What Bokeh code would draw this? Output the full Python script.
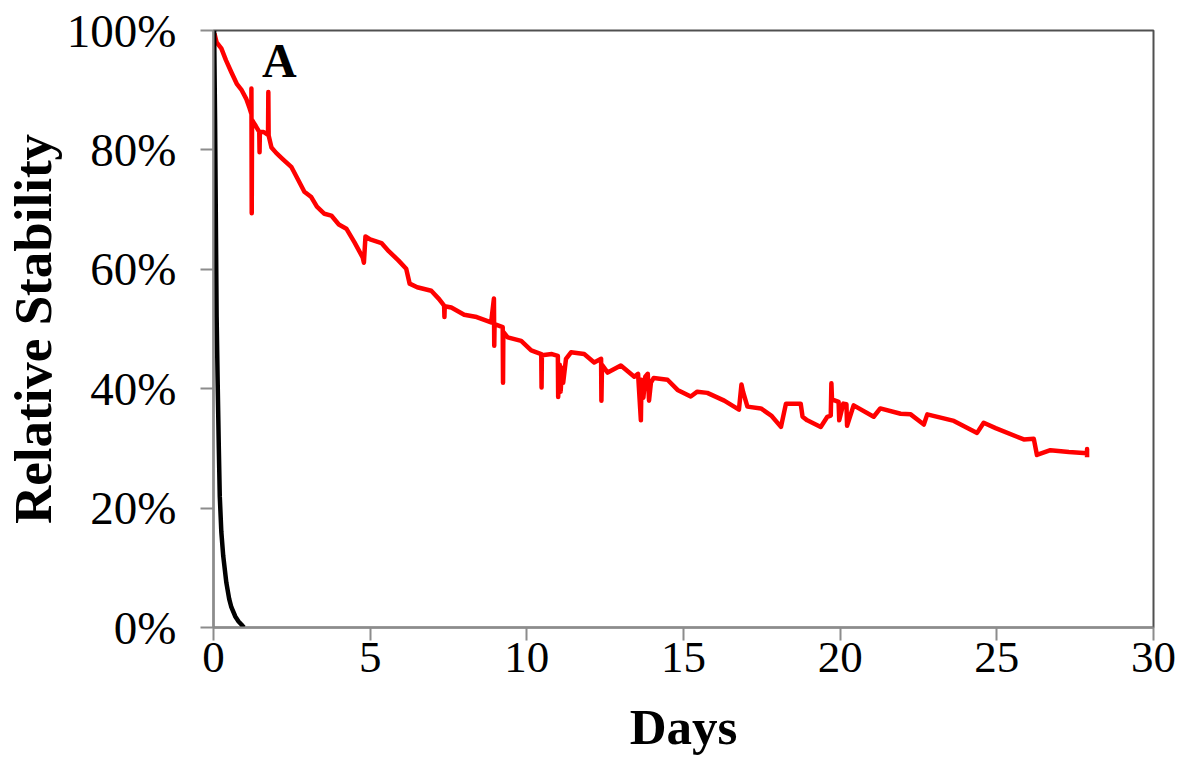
from bokeh.plotting import figure
from bokeh.models import FixedTicker, PrintfTickFormatter, Label, Range1d
from bokeh.embed import file_html
from bokeh.resources import INLINE

# ---- data ----
red_days = [0.03, 0.10, 0.25, 0.40, 0.57, 0.75, 0.90, 1.05, 1.15, 1.21, 1.21, 1.22, 1.23,
            1.35, 1.46, 1.47, 1.48, 1.60, 1.74, 1.75, 1.76, 1.85, 2.00, 2.20, 2.49, 2.70,
            2.90, 3.12, 3.30, 3.54, 3.76, 4.00, 4.24, 4.50, 4.76, 4.80, 4.85, 5.00, 5.36,
            5.60, 5.90, 6.15, 6.26, 6.50, 6.95, 7.20, 7.36, 7.37, 7.38, 7.59, 8.00, 8.40,
            8.86, 8.95, 8.96, 8.97, 9.23, 9.24, 9.25, 9.39, 9.82, 10.14, 10.46, 10.47, 10.48,
            10.80, 10.99, 11.00, 11.05, 11.08, 11.12, 11.16, 11.25, 11.41, 11.83, 12.15,
            12.37, 12.38, 12.40, 12.58, 13.00, 13.43, 13.55, 13.64, 13.66, 13.72, 13.78,
            13.86, 13.90, 13.96, 14.05, 14.49, 14.81, 15.23, 15.44, 15.76, 16.30, 16.77,
            16.85, 16.90, 17.04, 17.47, 17.80, 18.11, 18.27, 18.74, 18.80, 18.95, 19.38,
            19.59, 19.70, 19.72, 19.74, 19.80, 19.95, 19.97, 20.10, 20.20, 20.22, 20.43,
            21.07, 21.28, 21.93, 22.25, 22.67, 22.78, 23.63, 24.37, 24.58, 24.96, 25.86,
            26.18, 26.28, 26.71, 27.30, 27.88, 27.88, 27.88]
red_pct = [99.5, 98.0, 97.0, 95.0, 93.0, 91.0, 90.0, 88.5, 87.0, 86.0, 90.3, 69.4, 85.0,
           84.0, 83.0, 79.6, 83.0, 83.0, 82.5, 89.7, 82.4, 80.4, 79.5, 78.5, 77.1, 75.0,
           73.0, 72.1, 70.5, 69.3, 69.0, 67.5, 66.8, 64.5, 62.0, 61.1, 65.5, 65.0, 64.4,
           63.0, 61.5, 60.1, 57.6, 57.0, 56.4, 55.0, 53.9, 52.0, 53.8, 53.6, 52.4, 52.0,
           51.1, 55.1, 47.2, 50.8, 50.3, 41.0, 49.5, 48.6, 48.0, 46.4, 45.8, 40.2, 45.6,
           45.8, 45.5, 38.6, 44.0, 39.5, 43.5, 41.0, 45.0, 46.1, 45.8, 44.4,
           45.0, 38.0, 44.0, 42.7, 43.9, 42.0, 42.5, 34.7, 41.5, 38.5, 42.0,
           42.5, 38.0, 41.0, 41.8, 41.5, 39.8, 38.7, 39.5, 39.3, 38.0, 36.5,
           40.7, 39.5, 37.0, 36.7, 35.5, 33.6, 37.5, 37.5, 35.3, 34.7, 33.6,
           35.3, 35.5, 40.9, 38.1, 38.1, 37.8, 34.7, 37.5, 37.4, 33.8, 37.2,
           35.3, 36.7, 35.8, 35.7, 34.0, 35.7, 34.6, 32.6, 34.3, 33.4, 31.5,
           31.6, 28.9, 29.7, 29.4, 29.2, 29.9, 28.5]

black_days = [0.02, 0.05, 0.08, 0.10, 0.13, 0.17, 0.20, 0.25, 0.31, 0.41, 0.50, 0.57,
              0.70, 0.80, 0.89, 0.97]
black_pct = [100.0, 85.0, 65.0, 52.0, 42.0, 30.0, 22.0, 16.0, 12.0, 7.5, 4.8, 3.4,
             1.8, 1.0, 0.5, 0.0]

x_ticks = [0, 5, 10, 15, 20, 25, 30]
y_ticks = [0, 20, 40, 60, 80, 100]

SERIF = "Liberation Serif"

p = figure(width=1192, height=773, output_backend="svg", toolbar_location=None,
           x_range=Range1d(0, 30), y_range=Range1d(0, 100),
           min_border_left=212, min_border_right=39, min_border_top=30,
           min_border_bottom=146)
p.grid.visible = False
p.background_fill_color = "white"
p.border_fill_color = "white"
p.outline_line_color = "#505050"
p.outline_line_width = 2

p.line(red_days, red_pct, line_color="#ff0000", line_width=4.5, line_join="round")
p.line(black_days, black_pct, line_color="#000000", line_width=4.5, line_join="round")

for ax in (p.xaxis[0], p.yaxis[0]):
    ax.axis_line_color = "#8c8c8c"
    ax.axis_line_width = 2
    ax.major_tick_line_color = "#8c8c8c"
    ax.major_tick_line_width = 2
    ax.major_tick_in = 0
    ax.major_tick_out = 13
    ax.minor_tick_line_color = None
    ax.major_label_text_font = SERIF
    ax.major_label_text_color = "black"
    ax.axis_label_text_font = SERIF
    ax.axis_label_text_font_style = "bold"
    ax.axis_label_text_color = "black"

p.xaxis.ticker = FixedTicker(ticks=x_ticks)
p.xaxis.major_label_text_font_size = "45px"
p.xaxis.major_label_standoff = 2
p.xaxis.axis_label = "Days"
p.xaxis.axis_label_text_font_size = "51px"
p.xaxis.axis_label_standoff = 24

p.yaxis.ticker = FixedTicker(ticks=y_ticks)
p.yaxis.formatter = PrintfTickFormatter(format="%d%%")
p.yaxis.major_label_text_font_size = "47px"
p.yaxis.major_label_standoff = 24
p.yaxis.axis_label = "Relative Stability"
p.yaxis.axis_label_text_font_size = "53px"
p.yaxis.axis_label_standoff = 2

p.add_layout(Label(x=1.55, y=95, text="A", text_font=SERIF, text_font_style="bold",
                   text_font_size="48px", text_color="black", text_baseline="alphabetic"))

open("out.html", "w").write(file_html(p, INLINE))
